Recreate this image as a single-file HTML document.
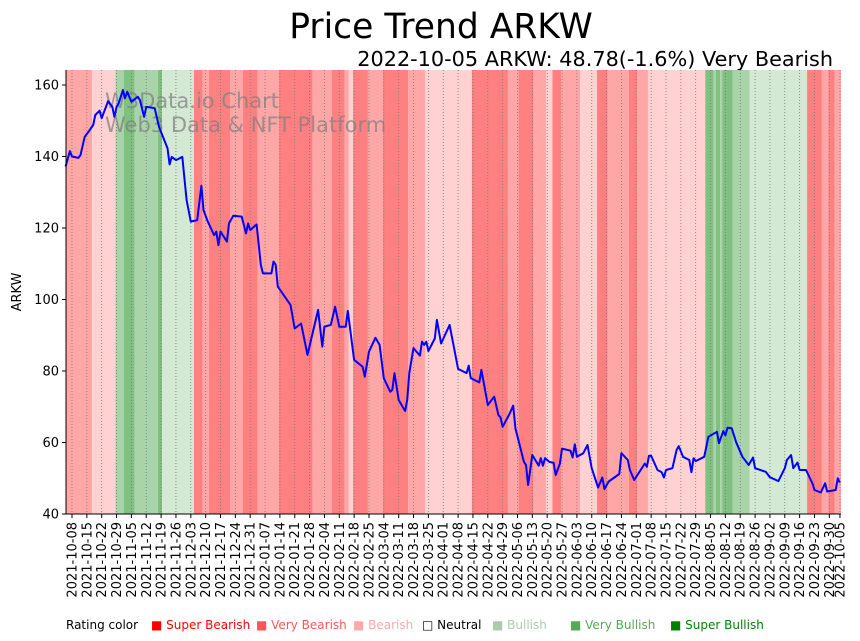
<!DOCTYPE html>
<html><head><meta charset="utf-8">
<style>
body{margin:0;background:#fff;font-family:"Liberation Sans","DejaVu Sans",sans-serif;}
#wrap{position:relative;width:860px;height:641px;overflow:hidden;}
svg text{font-family:"DejaVu Sans","Liberation Sans",sans-serif;}
</style></head>
<body>
<div id="wrap">
<svg id="chart" width="860" height="641" viewBox="0 0 860 641">
<text x="441" y="38" font-size="34.5" text-anchor="middle" fill="#000">Price Trend ARKW</text>
<text x="833" y="66" font-size="20.8" text-anchor="end" fill="#000">2022-10-05 ARKW: 48.78(-1.6%) Very Bearish</text>
<g id="bands"></g>
<g id="grid"></g>
<text x="105" y="108" font-size="21" fill="#808080" fill-opacity="0.75">W3Data.io Chart</text>
<text x="105" y="132" font-size="21" fill="#808080" fill-opacity="0.75">Web3 Data &amp; NFT Platform</text>
<path id="line" fill="none" stroke="#0000ff" stroke-width="2" stroke-linejoin="round"></path>
<g id="axes"></g>
<text transform="translate(21,292) rotate(-90)" font-size="13" text-anchor="middle">ARKW</text>
<g id="legend"></g>
</svg>
</div>
<script>
// ---- data ----
const dayOffsets = [-3,-1,0,3,4,6,8,10,11,13,14,17,19,20,21,22,24,25,26,28,31,32,34,35,39,41,45,46,47,49,52,54,56,59,61,62,64,67,68,69,70,73,74,76,80,82,83,84,87,89,90,94,95,96,97,103,105,108,111,116,118,119,122,124,126,129,130,133,137,138,140,143,145,147,150,151,152,154,157,158,159,161,164,165,166,167,168,171,172,174,178,181,182,186,187,188,192,193,196,199,201,202,203,206,208,209,213,214,215,217,220,221,222,223,225,227,228,230,231,235,236,237,238,241,243,245,248,250,251,253,258,259,262,263,265,270,271,272,273,276,278,279,280,283,285,286,288,291,292,293,294,298,300,304,305,307,308,309,311,313,316,319,321,322,327,329,333,336,337,339,340,342,343,346,349,350,353,355,356,360,361,362];
const prices = [137.2,141.5,140,139.6,140.4,145.5,147.1,148.8,151.6,152.8,150.7,155.5,153.9,151.1,153.9,154.9,158.6,156.3,158.1,155.3,156.7,155.8,151.1,153.9,153.5,148.3,142.3,137.8,139.9,139,139.9,127.8,121.8,122.2,131.8,125,121.8,118,119,115.2,119,116.2,121.3,123.4,123.2,118.5,121.3,119.4,121,109.7,107.3,107.3,110.6,109.7,103.6,98.5,91.9,93.3,84.5,97.1,86.8,92.4,92.9,98,92.4,92.4,96.8,83.1,81.2,78.4,85.4,89.3,87.3,78,74.2,74.7,79.4,71.9,68.8,71.9,79.4,86.4,84.3,88.2,87.3,88.2,85.6,89.1,94.3,87.7,92.9,83.6,80.6,79.4,81.5,78,76.8,80.3,70.5,72.8,67.7,67,64.4,67.7,70.3,64,54.6,53.7,48.1,56.5,53.5,55.6,53.5,55.6,54.6,54.3,50.9,54.1,58.3,57.7,55.8,59.5,56,57,59.3,52.8,47.4,50.2,47,49.1,51.2,57,55.1,52.3,49.5,54.1,53.2,56.3,56.3,52.3,51.7,50.2,52.3,52.8,57.9,59,56,55.1,51.7,55.6,54.8,56,61.6,63,59.8,63.2,62,64.1,64,60.2,56,53.7,55.8,52.8,51.8,50.3,49.2,52.8,55.1,56.5,52.8,54.4,52.3,52.3,48.6,46.7,46,48.6,46.3,46.7,50,48.78];
const bandStarts = [-3,10,21,25,30,41,43,58,62,65,75,81,88,98,114,123,129,131,133,140,147,159,167,189,206,211,218,224,227,231,240,248,253,263,267,272,299,303,304,306,307,312,320,347,354,357,360];
const bandRatings = [-2,-1,2,3,2,3,1,-3,-2,-3,-2,-3,-2,-3,-2,-3,-2,-1,-3,-2,-3,-2,-1,-3,-2,-3,-2,-1,-3,-2,-1,-3,-2,-3,-2,-1,3,2,3,2,3,2,1,-3,-2,-3,-2];
const yTicks = [40,60,80,100,120,140,160];
const legendLabels = ["Super Bearish","Very Bearish","Bearish","Neutral","Bullish","Very Bullish","Super Bullish"];

// ---- scales ----
const X0=66,X1=841,Y0=70,Y1=514, D0=-2.83, D1=362.5, V0=40, V1=160;
const x = d => X0 + (d-D0)/(D1-D0)*(X1-X0);
const yTop = 85; // value 160
const y = v => yTop + (V1-v)/(V1-V0)*(Y1-yTop);
const NS="http://www.w3.org/2000/svg";
function mk(tag, attrs, parent){const e=document.createElementNS(NS,tag);for(const k in attrs)e.setAttribute(k,attrs[k]);parent.appendChild(e);return e;}
const bandColor = {"-3":"#ff8080","-2":"#ffa6a6","-1":"#ffd1d1","1":"#d4e9d4","2":"#a9d4a9","3":"#80c080"};

// bands
const gb=document.getElementById('bands');
for(let i=0;i<bandStarts.length;i++){
  const a=Math.max(x(bandStarts[i]-0.5),X0);
  const b=i+1<bandStarts.length?x(bandStarts[i+1]-0.5):X1;
  const r=mk('rect',{x:a,y:Y0,width:b-a,height:Y1-Y0,fill:bandColor[bandRatings[i]]},gb);
  
  
}

// grid + x ticks
const gg=document.getElementById('grid'), ga=document.getElementById('axes');
const base=Date.UTC(2021,9,8);
const tickDays=[];for(let d=0;d<=357;d+=7)tickDays.push(d);tickDays.push(362);
function fmt(d){const t=new Date(base+d*86400000);return t.toISOString().slice(0,10);}
tickDays.forEach(d=>{
  const xx=x(d);
  const gl=mk('line',{x1:xx,x2:xx,y1:Y0,y2:Y1,stroke:'#777','stroke-width':0.8,'stroke-dasharray':'1,2'},gg);
  
  
  mk('line',{x1:xx,x2:xx,y1:Y1,y2:Y1+4,stroke:'#000','stroke-width':1},ga);
  const t=mk('text',{transform:`translate(${xx+4.5},${Y1+8}) rotate(-90)`,'font-size':13,'text-anchor':'end'},ga);
  t.textContent=fmt(d);
  
  
});
yTicks.forEach(v=>{
  const yy=y(v);
  mk('line',{x1:X0-4,x2:X0,y1:yy,y2:yy,stroke:'#000','stroke-width':1},ga);
  const t=mk('text',{x:X0-7,y:yy+4.5,'font-size':13,'text-anchor':'end'},ga);
  t.textContent=v;
  
  
});
mk('line',{x1:X0,x2:X0,y1:Y0,y2:Y1,stroke:'#000','stroke-width':1},ga);
mk('line',{x1:X0,x2:X1,y1:Y1,y2:Y1,stroke:'#000','stroke-width':1},ga);

// line
document.getElementById('line').setAttribute('d',dayOffsets.map((d,i)=>(i?'L':'M')+x(d).toFixed(1)+','+y(prices[i]).toFixed(1)).join(''));

// legend
const gl=document.getElementById('legend');
const lt=mk('text',{x:66,y:629,'font-size':12},gl);lt.textContent='Rating color';


const lx=[151,256,353,422,492,570,670];
const lc=["#ff0000","#ff5555","#ffaaaa","#000000","#aaccaa","#55aa55","#008000"];
legendLabels.forEach((s,i)=>{
  const t=mk('text',{x:lx[i],y:629,'font-size':12,fill:lc[i]},gl);
  t.textContent=(i==3?'\u25A1 ':'\u25A0 ')+s;
  
  
});
</script>
</body></html>
